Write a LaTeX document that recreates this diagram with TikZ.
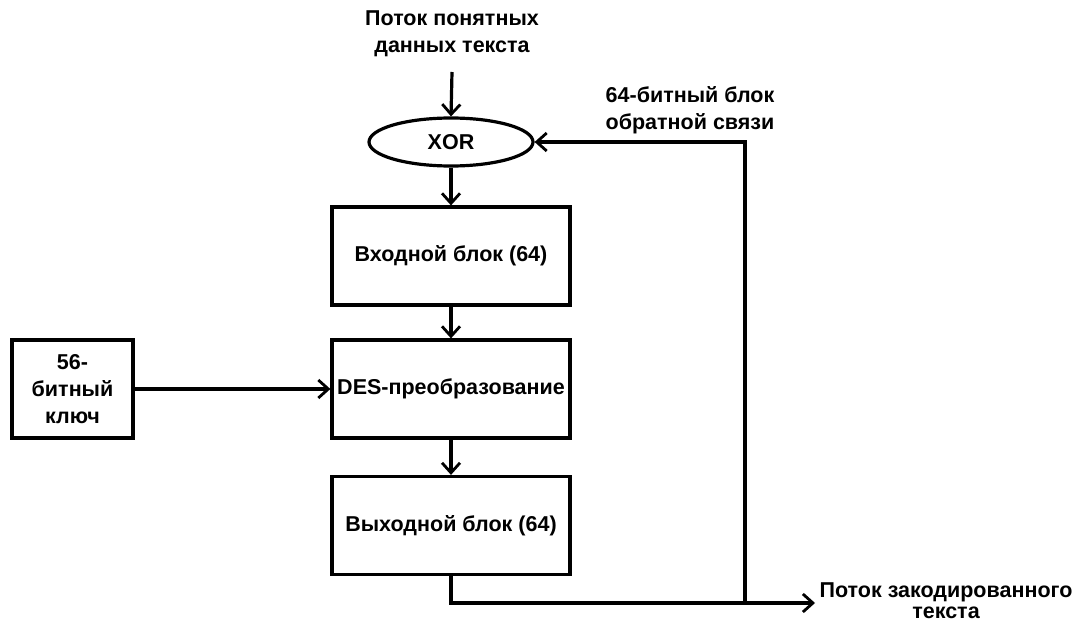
\documentclass[tikz,border=0pt]{standalone}
\usepackage{fontspec}
\setmainfont{Liberation Sans}
\usetikzlibrary{arrows.meta,shapes.geometric}
\tikzset{
  txt/.style={font=\fontsize{21.5}{27}\selectfont\bfseries},
  lbl/.style={txt, align=center, inner sep=0pt},
  blk/.style={draw, line width=3.2pt, minimum width=238pt, minimum height=98pt, inner sep=0pt, txt, align=center},
  conn/.style={line width=3.2pt, -{Straight Barb[length=10pt,width=18pt,line width=2.8pt]}},
  plain/.style={line width=3.2pt}
}
\begin{document}
\begin{tikzpicture}[x=1pt,y=-1pt]
\useasboundingbox (0,0) rectangle (1073,623);
\node[lbl] (in) at (452,34) {Поток понятных\\данных текста};
\coordinate (intop) at (452,72);
\node[draw, ellipse, line width=3.2pt, minimum width=164pt, minimum height=48pt, inner sep=0pt, txt] (xor) at (451,142) {XOR};
\node[blk] (b1) at (451,256) {Входной блок (64)};
\node[blk] (des) at (451,389) {DES-преобразование};
\node[blk] (b3) at (451,525.5) {Выходной блок (64)};
\node[draw, line width=3.2pt, minimum width=121pt, minimum height=98pt, inner sep=0pt, txt, align=center] (key) at (72.5,389) {56-\\битный\\ключ};
\node[lbl] (fb) at (690,110) {64-битный блок\\обратной связи};
\node[lbl, font=\fontsize{21.5}{21}\selectfont\bfseries, anchor=south] (out) at (946,619) {Поток закодированного\\текста};
\coordinate (c1) at (451,603);
\coordinate (c2) at (745,603);
\coordinate (c3) at (745,142);
\coordinate (c4) at (815,603);
\draw[conn] (intop) -- (xor.north);
\draw[conn] (xor.south) -- (b1.north);
\draw[conn] (b1.south) -- (des.north);
\draw[conn] (des.south) -- (b3.north);
\draw[conn] (key.east) -- (des.west);
\draw[plain] (b3.south) -- (c1) -- (c2);
\draw[conn] (c2) -- (c4);
\draw[conn] (c2) -- (c3) -- (xor.east);
\end{tikzpicture}
\end{document}
